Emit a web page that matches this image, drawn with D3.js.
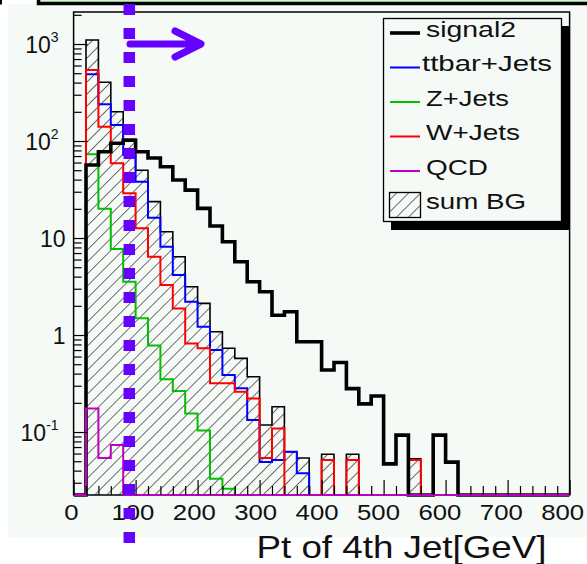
<!DOCTYPE html>
<html><head><meta charset="utf-8">
<script src="https://cdn.jsdelivr.net/npm/d3@7"></script>
<style>body{margin:0;background:#fff;} svg{display:block;}</style>
</head><body>
<script>
// ---------- data (20 GeV bins, lower edges) ----------
const binStarts = [0,20,40,60,80,100,120,140,160,180,200,220,240,260,280,300,320,340,360,380,
                   400,420,440,460,480,500,520,540,560,580,600,620,640,660,680,700,720,740,760,780];
const signal2   = [0,56.6,77.6,94.7,102,77.6,66.8,54.3,39.6,31.2,20.2,13.3,9.16,5.7,3.54,2.79,1.6,1.74,0.853,0.853,
                   0.436,0.52,0.28,0.195,0.235,0.047,0.093,0,0,0.093,0.049,0,0,0,0,0,0,0,0,0];
const ttbarJets = [0,488,240,146,72,38,16.2,8.13,4.16,2.2,1.22,0.70,0.387,0.282,0.133,0.049,0.0515,0.0627,0.0375,0,
                   0,0,0,0,0,0,0,0,0,0,0,0,0,0,0,0,0,0,0,0];
const zJets     = [0,72.9,20,7.7,3.54,1.49,0.78,0.35,0.265,0.155,0.104,0.033,0.026,0,0,0,0,0,0,0,
                   0,0,0,0,0,0,0,0,0,0,0,0,0,0,0,0,0,0,0,0];
const wJets     = [0,540,140,58.9,28.9,12.6,6.4,3.28,1.88,0.82,0.73,0.318,0.318,0.26,0.222,0.054,0.109,0,0,0,
                   0.0515,0,0.0515,0,0,0,0,0.0515,0,0,0,0,0,0,0,0,0,0,0,0];
const qcd       = [0,0.175,0.054,0.0734,0,0,0,0,0,0,0,0,0,0,0,0,0,0,0,0,
                   0,0,0,0,0,0,0,0,0,0,0,0,0,0,0,0,0,0,0,0];
const sumBG     = [0,1100,403,200,104,50,23.7,11.6,6.4,3.15,2.12,1.08,0.73,0.575,0.372,0.118,0.182,0.0627,0.054,0,
                   0.059,0,0.059,0,0,0,0,0.053,0,0,0,0,0,0,0,0,0,0,0,0];

const xTickValues = [0,100,200,300,400,500,600,700,800];
const xTickLabels = ["0","100","200","300","400","500","600","700","800"];
const xMinorTicks = [20,40,60,80,120,140,160,180,220,240,260,280,320,340,360,380,420,440,460,480,
                     520,540,560,580,620,640,660,680,720,740,760,780];
const yTickValues = [0.1,1,10,100,1000];
const yTickBase   = ["10","1","10","10","10"];
const yTickExp    = ["-1","","","2","3"];
const yMinorTicks = [0.03,0.04,0.05,0.06,0.07,0.08,0.09,0.2,0.3,0.4,0.5,0.6,0.7,0.8,0.9,
                     2,3,4,5,6,7,8,9,20,30,40,50,60,70,80,90,200,300,400,500,600,700,800,900,2000];
const legendLabels = ["signal2","ttbar+Jets","Z+Jets","W+Jets","QCD","sum BG"];
const xTitle = "Pt of 4th Jet[GeV]";

// ---------- layout ----------
const W = 587, H = 564;
const FONT = "'Liberation Sans', Arial, Helvetica, sans-serif";
const BGC = "#f5faf6";
const fL = 73.6, fR = 569.6, fT = 12, fB = 495;

const x = d3.scaleLinear().domain([0, 800]).range([fL, fR]);
const y = d3.scaleLog().domain([0.02243, 2138]).range([fB, fT]);
const yv = v => v > 0 ? y(v) : fB;

const svg = d3.select("body").append("svg").attr("width", W).attr("height", H);
const defs = svg.append("defs");
defs.append("clipPath").attr("id", "plotClip").append("rect")
  .attr("x", fL).attr("y", fT - 2).attr("width", fR - fL).attr("height", fB - fT + 4);
const pat = defs.append("pattern").attr("id", "hatch").attr("patternUnits", "userSpaceOnUse")
  .attr("width", 8.5).attr("height", 8.5).attr("patternTransform", "rotate(45)");
pat.append("line").attr("x1", 0).attr("y1", 0).attr("x2", 0).attr("y2", 8.5)
  .attr("stroke", "#111").attr("stroke-width", 1.2);

// canvas background
svg.append("rect").attr("x", 8).attr("y", 4).attr("width", W - 8).attr("height", 533).attr("fill", BGC);
svg.append("rect").attr("x", 0).attr("y", 0).attr("width", 2).attr("height", 4.5).attr("fill", "#000");
// green header strip
svg.append("rect").attr("x", 38.5).attr("y", -20).attr("width", 570).attr("height", 23.5)
  .attr("fill", "#ccf5cc").attr("stroke", "#000").attr("stroke-width", 3.5);

// frame
svg.append("rect").attr("x", fL).attr("y", fT).attr("width", fR - fL).attr("height", fB - fT)
  .attr("fill", BGC).attr("stroke", "#000").attr("stroke-width", 1.5);

const plot = svg.append("g").attr("clip-path", "url(#plotClip)");

function stepPts(vals) {
  const pts = binStarts.map((b, i) => [x(b), yv(vals[i])]);
  pts.push([x(800), yv(vals[vals.length - 1])]);
  return pts;
}
const stepLine = d3.line().curve(d3.curveStepAfter);
const stepArea = d3.area().curve(d3.curveStepAfter).y0(fB).x(d => d[0]).y1(d => d[1]);

// sum BG hatched
plot.append("path").attr("d", stepArea(stepPts(sumBG))).attr("fill", "url(#hatch)");
plot.append("path").attr("d", stepLine(stepPts(sumBG))).attr("fill", "none")
  .attr("stroke", "#000").attr("stroke-width", 1.6);

// ticks
const gx = svg.append("g").attr("transform", `translate(0,${fB})`);
gx.call(d3.axisBottom(x).tickValues(xMinorTicks).tickSize(-9).tickFormat(""));
const gxM = svg.append("g").attr("transform", `translate(0,${fB})`);
gxM.call(d3.axisBottom(x).tickValues(xTickValues).tickSize(-15)
  .tickFormat((d, i) => xTickLabels[i]));
[gx, gxM].forEach(g => { g.select(".domain").remove(); g.selectAll("line").attr("stroke", "#000").attr("stroke-width", 1.2); });
gxM.selectAll("text")
  .attr("y", 25).attr("dy", null)
  .attr("font-size", 23).attr("font-family", FONT).attr("fill", "#111")
  .attr("transform", d => `translate(${-2.6 - 0.006 * d},0) scale(1.12,1)`);

const gy = svg.append("g").attr("transform", `translate(${fL},0)`);
gy.call(d3.axisLeft(y).tickValues(yMinorTicks).tickSize(-8).tickFormat(""));
const gyM = svg.append("g").attr("transform", `translate(${fL},0)`);
gyM.call(d3.axisLeft(y).tickValues(yTickValues).tickSize(-14).tickFormat(""));
[gy, gyM].forEach(g => { g.select(".domain").remove(); g.selectAll("line").attr("stroke", "#000").attr("stroke-width", 1.2); });
gyM.selectAll(".tick").each(function(d, i) {
  const t = d3.select(this).select("text");
  t.attr("x", yTickExp[i] ? -15 : -8).attr("y", 8.5).attr("dy", null)
   .attr("font-size", 23).attr("font-family", FONT).attr("fill", "#111").attr("text-anchor", "end")
   .text(null);
  t.append("tspan").text(yTickBase[i]);
  if (yTickExp[i]) t.append("tspan").attr("dy", -11).attr("font-size", 14).text(yTickExp[i]);
});

// component histograms
const series = [
  {vals: ttbarJets, color: "#0000ff", w: 2},
  {vals: zJets, color: "#00c000", w: 2},
  {vals: wJets, color: "#ff0000", w: 2},
  {vals: signal2, color: "#000000", w: 3.6},
  {vals: qcd, color: "#c000c0", w: 2}
];
series.forEach(s => {
  plot.append("path").attr("d", stepLine(stepPts(s.vals))).attr("fill", "none")
    .attr("stroke", s.color).attr("stroke-width", s.w);
});

// legend
const legColors = ["#000000", "#0000ff", "#00c000", "#ff0000", "#c000c0", null];
const legWidths = [3.6, 2, 2, 2, 2, 0];
const legTextLen = [90, 130, 83, 94, 62, 100];
svg.append("rect").attr("x", 391).attr("y", 26).attr("width", 178).attr("height", 204).attr("fill", "#000");
svg.append("rect").attr("x", 383.5).attr("y", 18.5).attr("width", 178).attr("height", 203)
  .attr("fill", BGC).attr("stroke", "#000").attr("stroke-width", 1.3);
legendLabels.forEach((lab, i) => {
  const ly = 33 + 34.5 * i;
  if (legColors[i]) {
    svg.append("line").attr("x1", 390).attr("x2", 420).attr("y1", ly).attr("y2", ly)
      .attr("stroke", legColors[i]).attr("stroke-width", legWidths[i]);
  } else {
    svg.append("rect").attr("x", 389.5).attr("y", ly - 13).attr("width", 31).attr("height", 25)
      .attr("fill", "url(#hatch)").attr("stroke", "#000").attr("stroke-width", 1.3);
  }
  svg.append("text").attr("x", i === 1 ? 422 : 426).attr("y", 37 + 34.4 * i)
    .attr("font-size", 22).attr("font-family", FONT).attr("fill", "#111")
    .attr("textLength", legTextLen[i]).attr("lengthAdjust", "spacingAndGlyphs").text(lab);
});

// axis title
svg.append("text").attr("x", 256.5).attr("y", 558).attr("font-size", 32).attr("font-family", FONT)
  .attr("fill", "#111").attr("textLength", 290).attr("lengthAdjust", "spacingAndGlyphs").text(xTitle);

// purple annotation: dashed cut line and arrow
const PURPLE = "#6600ff";
svg.append("line").attr("x1", 129.3).attr("x2", 129.3).attr("y1", 4).attr("y2", 544)
  .attr("stroke", PURPLE).attr("stroke-width", 11.5).attr("stroke-dasharray", "11,13");
svg.append("path").attr("d", "M130,44 H199 M175,31 L201,44 L175,57")
  .attr("fill", "none").attr("stroke", PURPLE).attr("stroke-width", 7)
  .attr("stroke-linecap", "round").attr("stroke-linejoin", "round");
</script>
</body></html>
